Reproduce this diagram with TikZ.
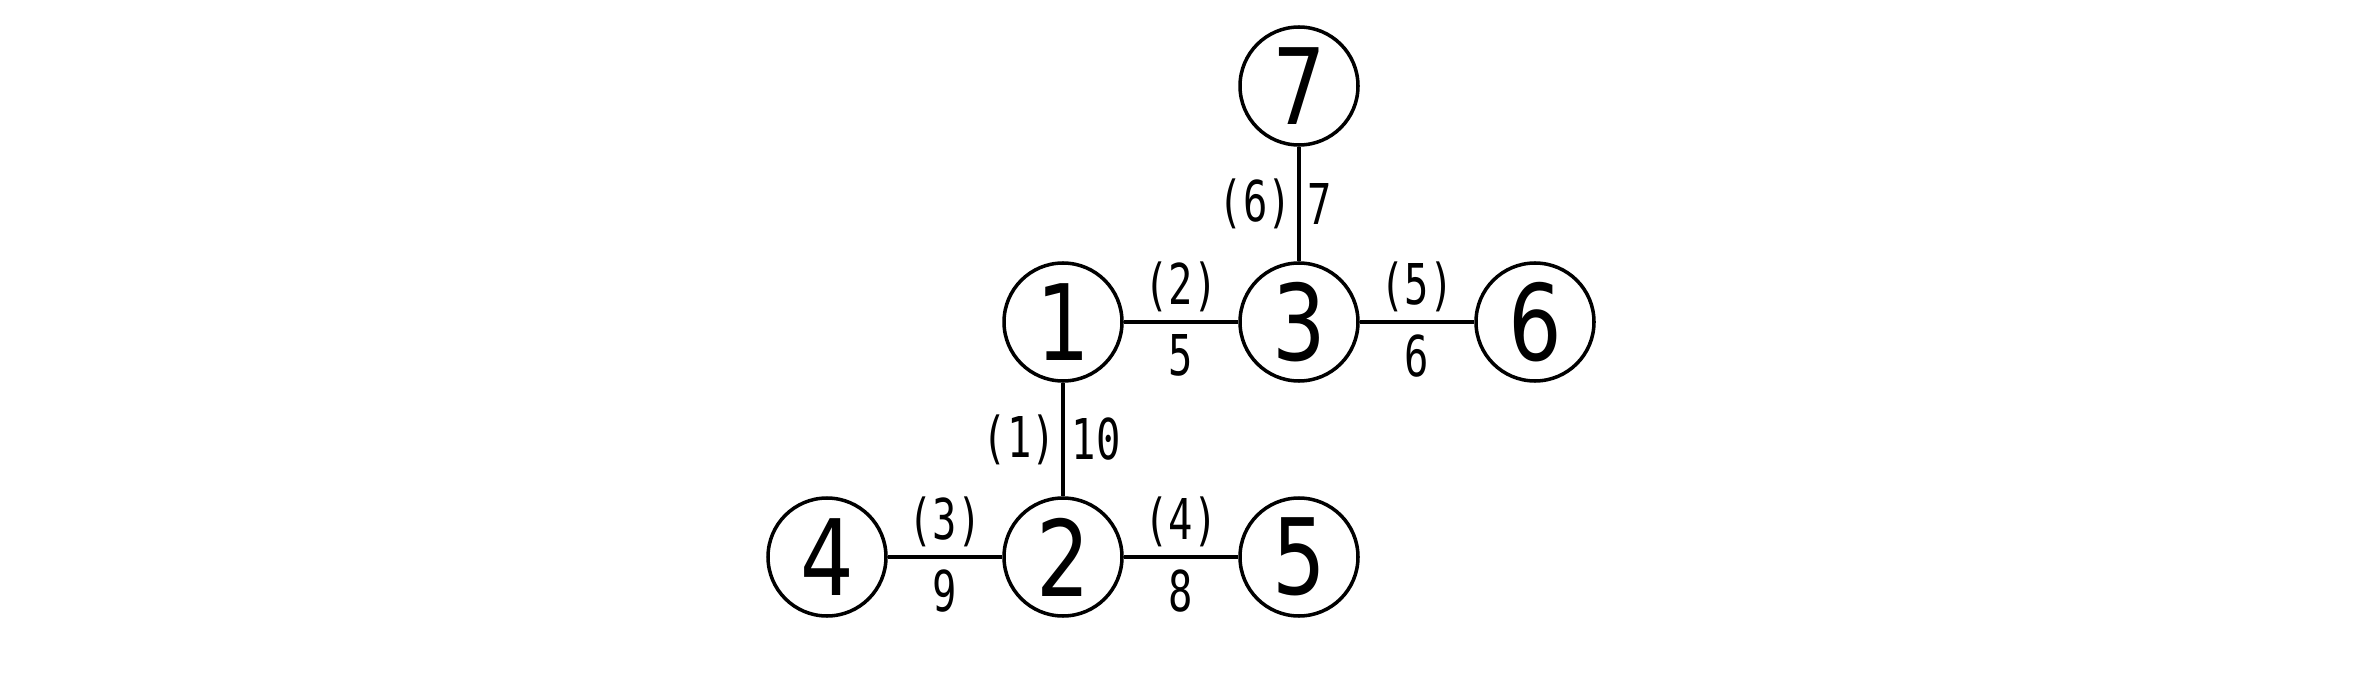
\documentclass[tikz,border=0pt]{standalone}
\usepackage{fontspec}
\setmainfont{DejaVu Sans}[FakeStretch=0.8]
\newfontfamily\edgefont{DejaVu Sans Mono}[FakeStretch=0.72]
\usepackage{tikz}
\usetikzlibrary{positioning}
\tikzset{
  vnode/.style={draw=black,fill=white,circle,line width=1pt,
    minimum size=1.18cm,inner sep=0pt,
    font=\fontsize{30}{31}\selectfont},
  tedge/.style={line width=1pt,draw=black},
  elab/.style={font=\edgefont\fontsize{16}{17}\selectfont,inner sep=1pt},
}
\begin{document}
\begin{tikzpicture}
  \useasboundingbox (0,0) rectangle (23.63,6.72);
  \node[vnode] (v7) at (12.99, 5.86) {7};
  \node[vnode] (v1) at (10.63, 3.50) {1};
  \node[vnode] (v3) at (12.99, 3.50) {3};
  \node[vnode] (v6) at (15.35, 3.50) {6};
  \node[vnode] (v4) at ( 8.27, 1.15) {4};
  \node[vnode] (v2) at (10.63, 1.15) {2};
  \node[vnode] (v5) at (12.99, 1.15) {5};
  \draw[tedge] (v1) -- node[elab,left=0.5pt] (e1a) {(1)} node[elab,right=1pt] (e1b) {10} (v2);
  \draw[tedge] (v1) -- node[elab,above=1.5pt] (e2a) {(2)} node[elab,below=2pt] (e2b) {5} (v3);
  \draw[tedge] (v4) -- node[elab,above=1.5pt] (e3a) {(3)} node[elab,below=2pt] (e3b) {9} (v2);
  \draw[tedge] (v2) -- node[elab,above=1.5pt] (e4a) {(4)} node[elab,below=2pt] (e4b) {8} (v5);
  \draw[tedge] (v3) -- node[elab,above=1.5pt] (e5a) {(5)} node[elab,below=2pt] (e5b) {6} (v6);
  \draw[tedge] (v7) -- node[elab,left=0.5pt] (e6a) {(6)} node[elab,right=1pt] (e6b) {7} (v3);
\end{tikzpicture}
\end{document}
